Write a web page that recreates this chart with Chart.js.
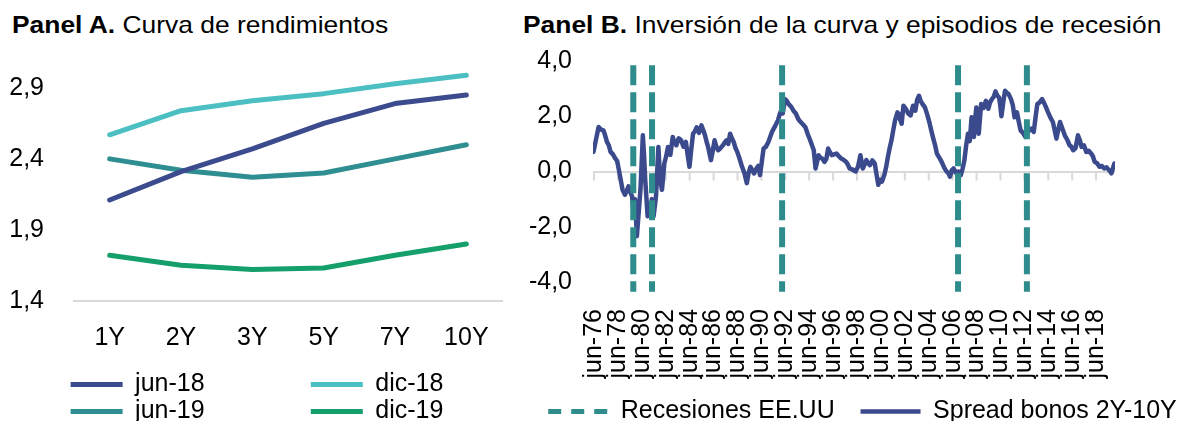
<!DOCTYPE html>
<html>
<head>
<meta charset="utf-8">
<script src="https://cdn.jsdelivr.net/npm/chart.js@4.4.1/dist/chart.umd.min.js"></script>
<style>
    html, body { margin: 0; padding: 0; background: #fff; }
    body { width: 1189px; height: 421px; overflow: hidden; position: relative;
           font-family: Arial, "Liberation Sans", sans-serif; color: #000; }
    .title { position: absolute; top: 13px; font-size: 24px; line-height: 24px; white-space: nowrap;
             transform: scaleX(1.1); transform-origin: 0 0; }
    canvas { position: absolute; top: 0; }
    #chartA { left: 0; }
    #chartB { left: 515px; }
</style>
</head>
<body>
<div class="title" style="left:12px"><b>Panel A.</b> Curva de rendimientos</div>
<div class="title" style="left:523px"><b>Panel B.</b> Inversión de la curva y episodios de recesión</div>
<canvas id="chartA" width="514" height="434"></canvas>
<canvas id="chartB" width="695" height="434"></canvas>
<script>
// Panel A - yield curves
var tenors = ['1Y', '2Y', '3Y', '5Y', '7Y', '10Y'];
var jun18 = [2.11, 2.31, 2.47, 2.65, 2.79, 2.85];
var dic18 = [2.57, 2.74, 2.81, 2.86, 2.93, 2.99];
var jun19 = [2.40, 2.32, 2.27, 2.30, 2.40, 2.50];
var dic19 = [1.72, 1.65, 1.62, 1.63, 1.72, 1.80];
var yTicksA = [1.4, 1.9, 2.4, 2.9];

// Panel B - spread 2Y-10Y (decimal years)
var spreadDates = [
    1976.37, 1976.6, 1976.8,
    1977.0, 1977.2, 1977.35, 1977.5, 1977.65, 1977.8,
    1978.0, 1978.2, 1978.35, 1978.5, 1978.65, 1978.8,
    1979.0, 1979.15, 1979.3, 1979.45, 1979.6, 1979.7, 1979.85,
    1980.0, 1980.15, 1980.3, 1980.5, 1980.6, 1980.7, 1980.9,
    1981.1, 1981.25, 1981.4, 1981.6, 1981.8, 1981.95,
    1982.1, 1982.3, 1982.45, 1982.6, 1982.8,
    1983.0, 1983.15, 1983.3, 1983.5, 1983.7, 1983.9,
    1984.1, 1984.25, 1984.4, 1984.55, 1984.7, 1984.85,
    1985.0, 1985.2, 1985.4, 1985.55, 1985.7, 1985.85, 1985.96,
    1986.2, 1986.35, 1986.5, 1986.65, 1986.8,
    1987.0, 1987.2, 1987.35, 1987.5, 1987.65, 1987.8, 1987.95,
    1988.1, 1988.25, 1988.4, 1988.6, 1988.8,
    1989.0, 1989.2, 1989.35, 1989.5, 1989.65, 1989.8,
    1990.0, 1990.15, 1990.3, 1990.45, 1990.6, 1990.8,
    1991.0, 1991.15, 1991.3, 1991.45, 1991.6, 1991.8,
    1992.0, 1992.2, 1992.4, 1992.55, 1992.7, 1992.9,
    1993.1, 1993.3, 1993.5, 1993.7, 1993.9,
    1994.1, 1994.3, 1994.5, 1994.65, 1994.8, 1994.95,
    1995.2, 1995.35, 1995.5, 1995.7, 1995.85,
    1996.0, 1996.15, 1996.3, 1996.5, 1996.7, 1996.9,
    1997.1, 1997.3, 1997.5, 1997.65, 1997.8,
    1998.0, 1998.3, 1998.5, 1998.7, 1998.9,
    1999.05, 1999.2, 1999.35, 1999.5, 1999.7, 1999.9,
    2000.05, 2000.2, 2000.35, 2000.5, 2000.7, 2000.85,
    2001.0, 2001.15, 2001.3, 2001.45, 2001.6, 2001.8, 2001.9,
    2002.0, 2002.15, 2002.3, 2002.5, 2002.7, 2002.9,
    2003.1, 2003.3, 2003.45, 2003.6, 2003.75, 2003.9,
    2004.1, 2004.3, 2004.5, 2004.65, 2004.8, 2004.95,
    2005.1, 2005.3, 2005.5, 2005.7, 2005.9,
    2006.05, 2006.2, 2006.35, 2006.5, 2006.7, 2006.9,
    2007.1, 2007.25, 2007.4, 2007.55, 2007.7, 2007.85,
    2008.0, 2008.1, 2008.2, 2008.3, 2008.4, 2008.5, 2008.6, 2008.7, 2008.8,
    2009.0, 2009.2, 2009.3, 2009.4, 2009.55, 2009.7, 2009.85,
    2010.0, 2010.15, 2010.3, 2010.4, 2010.5, 2010.65, 2010.8, 2010.95,
    2011.1, 2011.3, 2011.45, 2011.6, 2011.7, 2011.8, 2011.95,
    2012.1, 2012.3, 2012.5, 2012.65, 2012.8,
    2013.0, 2013.2, 2013.35, 2013.5, 2013.7, 2013.9,
    2014.1, 2014.25, 2014.4, 2014.6, 2014.8, 2014.95,
    2015.1, 2015.25, 2015.4, 2015.6, 2015.8,
    2016.0, 2016.2, 2016.35, 2016.5, 2016.7, 2016.9,
    2017.05, 2017.2, 2017.4, 2017.6, 2017.8,
    2018.0, 2018.15, 2018.3, 2018.5, 2018.7, 2018.9,
    2019.1, 2019.3, 2019.5, 2019.6, 2019.7, 2019.85, 2019.95
];
var spreadValues = [
    0.71, 1.20, 1.61,
    1.52, 1.49, 1.30, 1.07, 0.95, 0.71,
    0.62, 0.47, 0.38, 0.05, -0.30, -0.66,
    -0.84, -0.70, -0.54, -0.75, -0.90, -1.38, -1.00,
    -2.34, -1.50, -0.66, 1.31, 0.60, -0.30, -1.62,
    -1.50, -1.00, -1.62, -0.90, 0.89, -0.30,
    -0.66, 0.30, 0.55, 0.89, 0.60,
    1.25, 1.05, 0.95, 1.20, 1.13, 0.90,
    1.07, 0.60, 0.17, 0.80, 1.37, 1.45,
    1.60, 1.40, 1.67, 1.50, 1.31, 1.05, 0.89,
    0.41, 0.75, 1.13, 0.90, 0.77,
    0.85, 0.95, 1.05, 1.13, 1.00, 1.37, 1.20,
    1.07, 0.85, 0.71, 0.45, 0.17,
    -0.06, -0.42, -0.05, 0.17, 0.05, -0.07,
    0.11, 0.20, -0.13, 0.35, 0.83, 0.90,
    1.07, 1.25, 1.43, 1.55, 1.67, 1.85,
    2.14, 2.10, 2.62, 2.55, 2.44, 2.35,
    2.20, 2.10, 1.90, 1.79, 1.70,
    1.60, 1.35, 1.13, 0.95, 0.77, 0.11,
    0.59, 0.50, 0.47, 0.35, 0.45,
    0.83, 0.70, 0.59, 0.62, 0.65, 0.55,
    0.47, 0.42, 0.35, 0.25, 0.11,
    0.08, 0.00, 0.17, 0.59, 0.11,
    0.25, 0.41, 0.30, 0.23, 0.40, 0.29,
    -0.10, -0.48, -0.30, -0.37, -0.13, 0.15,
    0.53, 0.85, 1.13, 1.50, 1.85, 2.14, 2.09,
    1.91, 1.73, 2.38, 2.27, 2.10, 2.03,
    2.38, 2.20, 2.60, 2.74, 2.55, 2.44,
    2.32, 2.05, 1.73, 1.45, 1.19, 0.95,
    0.65, 0.50, 0.35, 0.15, 0.00,
    -0.05, -0.19, 0.05, 0.11, -0.05, 0.00,
    -0.13, 0.10, 0.41, 0.95, 1.37, 1.10,
    1.96, 1.70, 1.25, 1.90, 2.32, 1.80, 1.37, 1.90, 2.44,
    2.30, 2.56, 2.45, 2.27, 2.50, 2.62, 2.70,
    2.90, 2.75, 2.68, 2.40, 2.00, 2.50, 2.92, 2.85,
    2.80, 2.62, 2.40, 1.96, 2.05, 2.14, 1.80,
    1.49, 1.40, 1.25, 1.35, 1.49,
    1.55, 1.43, 1.95, 2.44, 2.50, 2.62,
    2.45, 2.30, 2.14, 1.95, 1.79, 1.50,
    1.19, 1.50, 1.79, 1.55, 1.31,
    1.15, 0.95, 0.90, 0.77, 0.85, 1.31,
    1.15, 0.89, 0.95, 0.71, 0.75,
    0.65, 0.55, 0.35, 0.30, 0.17, 0.20,
    0.11, 0.15, 0.05, 0.00, -0.07, 0.15, 0.29
];
var recessionDates = [1979.7, 1981.27, 1992.15, 2006.87, 2012.63];
var xTickLabelsB = ['jun-76', 'jun-78', 'jun-80', 'jun-82', 'jun-84', 'jun-86', 'jun-88', 'jun-90',
    'jun-92', 'jun-94', 'jun-96', 'jun-98', 'jun-00', 'jun-02', 'jun-04', 'jun-06', 'jun-08',
    'jun-10', 'jun-12', 'jun-14', 'jun-16', 'jun-18'];
var yTicksB = [-4, -2, 0, 2, 4];

Chart.defaults.font.family = "Arial, 'Liberation Sans', sans-serif";
Chart.defaults.font.size = 25;
Chart.defaults.color = '#000';

function comma(v) {
    return v.toFixed(1).replace('.', ',');
}

// tick label -> decimal year (june)
var xTickDatesB = xTickLabelsB.map(function (s) {
    var yy = parseInt(s.slice(4), 10);
    return (yy > 50 ? 1900 : 2000) + yy + 5 / 12;
});

function curve(label, data, color) {
    return {
        label: label, data: data,
        borderColor: color, backgroundColor: color,
        borderWidth: 5, pointRadius: 0, tension: 0,
        borderCapStyle: 'round', borderJoinStyle: 'round'
    };
}

var colGap = '\u00A0'.repeat(15);

new Chart(document.getElementById('chartA'), {
    type: 'line',
    data: {
        labels: tenors,
        datasets: [
            curve('jun-18', jun18, '#3C4A8E'),
            curve('dic-18', dic18, '#4BBFC2'),
            curve('jun-19', jun19, '#2F8E91'),
            curve('dic-19', dic19, '#15A06B')
        ]
    },
    options: {
        responsive: false,
        animation: false,
        layout: {padding: {top: 59.6, left: 0, right: 0, bottom: 0}},
        plugins: {
            tooltip: {enabled: false},
            legend: {
                position: 'bottom',
                labels: {
                    usePointStyle: true, pointStyle: 'line', pointStyleWidth: 52,
                    padding: 2,
                    generateLabels: function (chart) {
                        var items = Chart.defaults.plugins.legend.labels.generateLabels(chart);
                        items.forEach(function (it, i) {
                            if (i % 2 === 0) it.text += colGap;
                        });
                        return items;
                    }
                }
            }
        },
        scales: {
            x: {
                type: 'category', offset: true,
                grid: {display: false},
                border: {display: true, color: '#D9D9D9', width: 2},
                ticks: {padding: 14},
                afterFit: function (s) { s.height = 69.3; }
            },
            y: {
                min: 1.4, max: 3.1,
                grid: {display: false},
                border: {display: false},
                ticks: {padding: 22, callback: function (v) { return comma(v); }},
                afterBuildTicks: function (s) {
                    s.ticks = yTicksA.map(function (v) { return {value: v}; });
                },
                afterFit: function (s) { s.width = 74; }
            },
            yRight: {
                type: 'linear', position: 'right', axis: 'y',
                grid: {display: false}, border: {display: false}, ticks: {display: false},
                afterFit: function (s) { s.width = 12; }
            }
        }
    }
});

// small ticks hanging under the zero line
var zeroTicks = {
    id: 'zeroTicks',
    beforeDatasetsDraw: function (chart) {
        var ctx = chart.ctx, x = chart.scales.x, y = chart.scales.y;
        var y0 = y.getPixelForValue(0);
        ctx.save();
        ctx.strokeStyle = '#D9D9D9';
        ctx.lineWidth = 2;
        x.ticks.forEach(function (t) {
            var px = x.getPixelForValue(t.value);
            ctx.beginPath();
            ctx.moveTo(px, y0);
            ctx.lineTo(px, y0 + 9);
            ctx.stroke();
        });
        ctx.restore();
    }
};

var recessionPoints = [];
recessionDates.forEach(function (d) {
    recessionPoints.push({x: d, y: 3.85}, {x: d, y: -4.35}, {x: d, y: null});
});

new Chart(document.getElementById('chartB'), {
    type: 'line',
    data: {
        datasets: [{
            label: 'Recesiones EE.UU',
            data: recessionPoints,
            borderColor: '#2E8C8C', backgroundColor: '#2E8C8C',
            borderWidth: 6, borderDash: [20, 7], borderCapStyle: 'butt',
            pointRadius: 0, spanGaps: false, clip: false
        }, {
            label: 'Spread bonos 2Y-10Y',
            data: spreadDates.map(function (d, i) { return {x: d, y: spreadValues[i]}; }),
            borderColor: '#3B4A8C', backgroundColor: '#3B4A8C',
            borderWidth: 4.5, pointRadius: 0, tension: 0,
            borderCapStyle: 'round', borderJoinStyle: 'round'
        }]
    },
    plugins: [zeroTicks],
    options: {
        responsive: false,
        animation: false,
        layout: {padding: {top: 61, left: 0, right: 0, bottom: 0}},
        plugins: {
            tooltip: {enabled: false},
            legend: {
                position: 'bottom',
                labels: {
                    usePointStyle: true, pointStyle: 'line', pointStyleWidth: 60,
                    padding: 5,
                    generateLabels: function (chart) {
                        var items = Chart.defaults.plugins.legend.labels.generateLabels(chart);
                        items[0].lineDash = [13, 10];
                        items[0].lineWidth = 5;
                        items[0].text += '\u00A0\u00A0\u00A0';
                        return items;
                    }
                }
            }
        },
        scales: {
            x: {
                type: 'linear', min: 1976.33, max: 2020,
                grid: {display: false},
                border: {display: false},
                ticks: {
                    autoSkip: false, minRotation: 90, maxRotation: 90, padding: 19,
                    callback: function (v, i) { return xTickLabelsB[i]; }
                },
                afterBuildTicks: function (s) {
                    s.ticks = xTickDatesB.map(function (v) { return {value: v}; });
                },
                afterFit: function (s) { s.height = 112; }
            },
            y: {
                min: -4, max: 4,
                grid: {
                    drawTicks: false, lineWidth: 2,
                    color: function (c) { return c.tick && c.tick.value === 0 ? '#D9D9D9' : 'rgba(0,0,0,0)'; }
                },
                border: {display: false},
                ticks: {padding: 21, callback: function (v) { return comma(v); }},
                afterBuildTicks: function (s) {
                    s.ticks = yTicksB.map(function (v) { return {value: v}; });
                },
                afterFit: function (s) { s.width = 78; }
            },
            yRight: {
                type: 'linear', position: 'right', axis: 'y',
                grid: {display: false}, border: {display: false}, ticks: {display: false},
                afterFit: function (s) { s.width = 95; }
            }
        }
    }
});
</script>
</body>
</html>
